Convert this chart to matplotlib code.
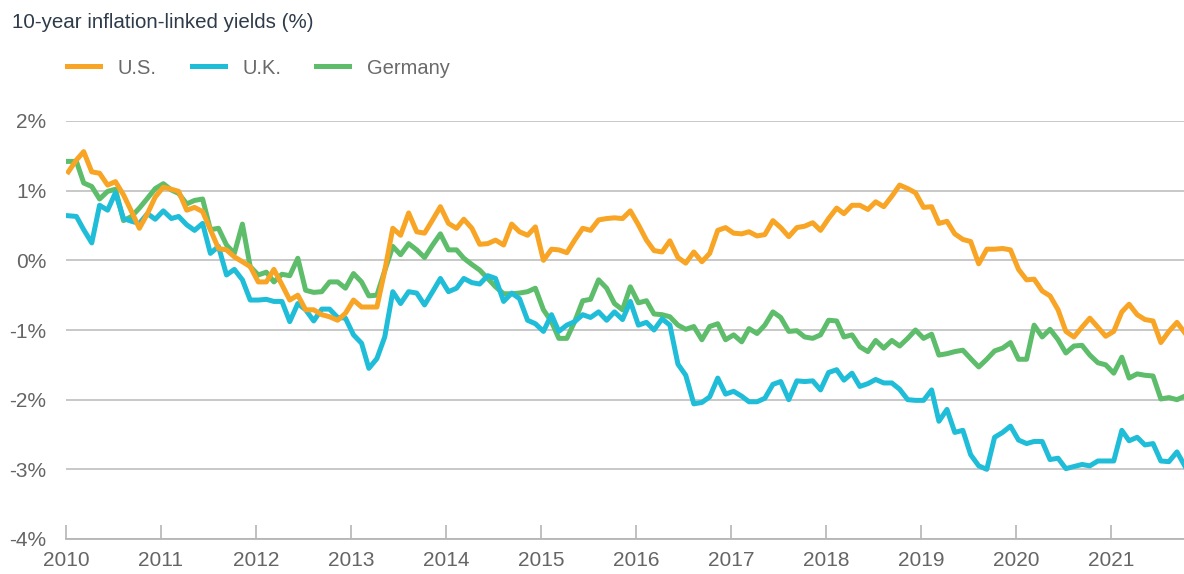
import pandas as pd
import matplotlib.pyplot as plt
import matplotlib.dates as mdates

plt.rcParams['font.family'] = ['Liberation Sans', 'DejaVu Sans']

# monthly 10-year inflation-linked yields (%), Jan 2010 onwards
us = [1.27, 1.44, 1.56, 1.27, 1.25, 1.08, 1.13, 0.94, 0.70, 0.46, 0.67, 0.91,
      1.05, 1.02, 0.99, 0.72, 0.76, 0.70, 0.44, 0.17, 0.15, 0.05, -0.02, -0.09,
      -0.31, -0.31, -0.13, -0.35, -0.57, -0.50, -0.71, -0.71, -0.78, -0.81, -0.86, -0.76,
      -0.57, -0.67, -0.67, -0.67, -0.15, 0.46, 0.36, 0.68, 0.41, 0.39, 0.58, 0.77,
      0.53, 0.46, 0.59, 0.46, 0.23, 0.24, 0.29, 0.22, 0.52, 0.41, 0.36, 0.48,
      0.00, 0.16, 0.15, 0.11, 0.29, 0.46, 0.43, 0.58, 0.60, 0.61, 0.60, 0.71,
      0.51, 0.29, 0.14, 0.12, 0.28, 0.04, -0.04, 0.12, -0.02, 0.10, 0.43, 0.47,
      0.39, 0.38, 0.41, 0.35, 0.37, 0.57, 0.47, 0.34, 0.47, 0.49, 0.54, 0.43,
      0.60, 0.75, 0.67, 0.79, 0.79, 0.73, 0.84, 0.77, 0.92, 1.08, 1.03, 0.97,
      0.76, 0.77, 0.53, 0.56, 0.38, 0.30, 0.27, -0.05, 0.16, 0.16, 0.17, 0.15,
      -0.13, -0.28, -0.27, -0.44, -0.51, -0.71, -1.02, -1.10, -0.96, -0.83, -0.96, -1.09,
      -1.02, -0.74, -0.63, -0.78, -0.85, -0.87, -1.18, -1.02, -0.89, -1.04]
uk = [0.64, 0.63, 0.44, 0.25, 0.79, 0.72, 0.97, 0.60, 0.56, 0.53, 0.67, 0.59,
      0.71, 0.60, 0.63, 0.51, 0.43, 0.53, 0.10, 0.20, -0.21, -0.13, -0.28, -0.57,
      -0.57, -0.56, -0.59, -0.59, -0.88, -0.62, -0.71, -0.87, -0.70, -0.70, -0.82, -0.83,
      -1.07, -1.19, -1.55, -1.41, -1.10, -0.45, -0.62, -0.45, -0.47, -0.64, -0.45, -0.26,
      -0.45, -0.40, -0.26, -0.32, -0.34, -0.22, -0.26, -0.59, -0.47, -0.55, -0.86, -0.91,
      -1.02, -0.78, -1.02, -0.93, -0.88, -0.78, -0.82, -0.74, -0.86, -0.74, -0.85, -0.59,
      -0.93, -0.89, -1.00, -0.84, -0.93, -1.49, -1.65, -2.06, -2.04, -1.96, -1.69, -1.92,
      -1.88, -1.95, -2.03, -2.03, -1.98, -1.78, -1.74, -2.00, -1.73, -1.74, -1.73, -1.86,
      -1.61, -1.57, -1.72, -1.62, -1.81, -1.77, -1.71, -1.76, -1.76, -1.85, -2.00, -2.01,
      -2.01, -1.86, -2.31, -2.14, -2.47, -2.44, -2.79, -2.95, -3.00, -2.54, -2.47, -2.38,
      -2.58, -2.63, -2.60, -2.60, -2.86, -2.84, -2.99, -2.96, -2.93, -2.95, -2.88, -2.88,
      -2.88, -2.44, -2.59, -2.54, -2.65, -2.63, -2.88, -2.89, -2.75, -2.95]
germany = [1.42, 1.42, 1.11, 1.06, 0.88, 0.99, 1.02, 0.57, 0.63, 0.75, 0.89, 1.03,
           1.10, 1.01, 0.96, 0.81, 0.86, 0.88, 0.44, 0.46, 0.22, 0.10, 0.52, -0.09,
           -0.21, -0.17, -0.31, -0.20, -0.22, 0.03, -0.43, -0.46, -0.45, -0.31, -0.31, -0.40,
           -0.19, -0.31, -0.51, -0.50, -0.15, 0.20, 0.08, 0.24, 0.15, 0.04, 0.22, 0.38,
           0.15, 0.15, 0.03, -0.06, -0.14, -0.26, -0.38, -0.48, -0.48, -0.47, -0.45, -0.40,
           -0.71, -0.88, -1.12, -1.12, -0.88, -0.58, -0.56, -0.28, -0.40, -0.62, -0.71, -0.38,
           -0.61, -0.58, -0.77, -0.78, -0.81, -0.93, -0.99, -0.95, -1.14, -0.95, -0.91, -1.14,
           -1.07, -1.17, -0.98, -1.05, -0.93, -0.74, -0.82, -1.02, -1.01, -1.10, -1.12, -1.07,
           -0.86, -0.87, -1.10, -1.07, -1.24, -1.31, -1.15, -1.26, -1.15, -1.23, -1.12, -1.00,
           -1.12, -1.06, -1.36, -1.34, -1.31, -1.29, -1.41, -1.53, -1.42, -1.30, -1.26, -1.18,
           -1.42, -1.42, -0.93, -1.10, -0.99, -1.14, -1.33, -1.23, -1.22, -1.36, -1.47, -1.50,
           -1.62, -1.39, -1.69, -1.63, -1.65, -1.66, -1.99, -1.97, -2.00, -1.95]

dates = pd.date_range("2010-01-01", periods=len(us), freq="MS") + pd.Timedelta(days=9)
yticks = [2, 1, 0, -1, -2, -3, -4]
ytick_labels = ["2%", "1%", "0%", "-1%", "-2%", "-3%", "-4%"]

c_us, c_uk, c_de = "#F8A425", "#20BDD8", "#5DBD6A"
tick_color = "#656565"

fig = plt.figure(figsize=(11.84, 5.74), dpi=100)
ax = fig.add_axes([66 / 1184, 35 / 574, 1 - 66 / 1184, 418 / 574])

ax.plot(dates, germany, color=c_de, lw=3.6, label="Germany", zorder=3)
ax.plot(dates, uk, color=c_uk, lw=3.6, label="U.K.", zorder=4)
ax.plot(dates, us, color=c_us, lw=3.6, label="U.S.", zorder=5)

ax.set_ylim(-4, 2)
ax.set_xlim(pd.Timestamp("2010-01-01"), pd.Timestamp("2021-10-07"))
ax.set_yticks(yticks)
ax.set_yticklabels(ytick_labels)
ax.xaxis.set_major_locator(mdates.YearLocator())
ax.xaxis.set_major_formatter(mdates.DateFormatter("%Y"))

for s in ["top", "right", "left"]:
    ax.spines[s].set_visible(False)
ax.spines["bottom"].set_color("#b5b5b5")
ax.spines["bottom"].set_linewidth(1.3)
ax.grid(axis="y", color="#c8c8c8", lw=1.4, zorder=0)
ax.set_axisbelow(True)
ax.tick_params(axis="y", length=0, pad=14, labelsize=15, labelcolor=tick_color)
ax.tick_params(axis="x", direction="in", length=10, width=1.2, color="#b5b5b5",
               pad=9, labelsize=15, labelcolor=tick_color)

fig.text(12 / 1184, 1 - 22 / 574, "10-year inflation-linked yields (%)",
         fontsize=14.8, color="#2e3b4a", va="center", ha="left")

handles, labels = ax.get_legend_handles_labels()
order = [2, 1, 0]
fig.legend([handles[i] for i in order], [labels[i] for i in order],
           loc="center left", bbox_to_anchor=(57 / 1184, 1 - 68 / 574),
           ncol=3, frameon=False, borderpad=0, handlelength=1.65,
           handletextpad=0.85, columnspacing=1.75, fontsize=14.5,
           labelcolor="#6a6a6a")

fig.savefig("out.png", dpi=100)
